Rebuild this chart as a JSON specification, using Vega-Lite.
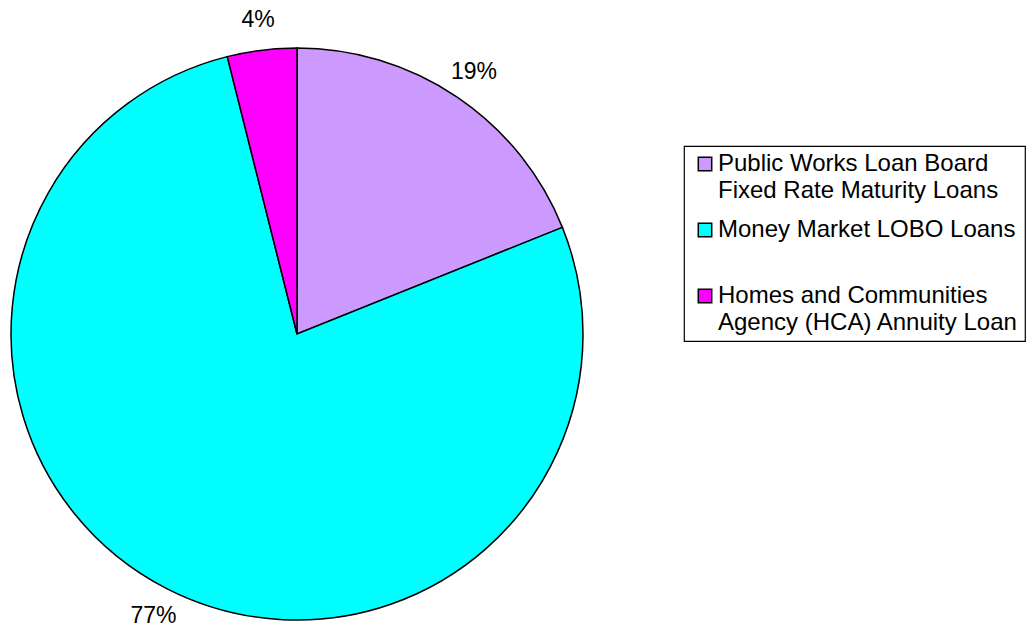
{
  "$schema": "https://vega.github.io/schema/vega-lite/v6.json",
  "width": 594,
  "height": 588,
  "autosize": {"type": "none"},
  "padding": {"left": 0, "top": 40, "right": 435, "bottom": 0},
  "background": "white",
  "config": {"view": {"stroke": null}, "font": "Liberation Sans"},
  "data": {
    "values": [
      {"category": "Public Works Loan Board|Fixed Rate Maturity Loans", "share": 0.1892, "ord": 1},
      {"category": "Money Market LOBO Loans| ", "share": 0.7716, "ord": 2},
      {"category": "Homes and Communities|Agency (HCA) Annuity Loan", "share": 0.0392, "ord": 3}
    ]
  },
  "encoding": {
    "theta": {"field": "share", "type": "quantitative", "stack": true},
    "order": {"field": "ord", "type": "quantitative"},
    "color": {
      "field": "category",
      "type": "nominal",
      "sort": null,
      "scale": {
        "domain": ["Public Works Loan Board|Fixed Rate Maturity Loans", "Money Market LOBO Loans| ", "Homes and Communities|Agency (HCA) Annuity Loan"],
        "range": ["#CC99FF", "#00FFFF", "#FF00FF"]
      },
      "legend": {
        "title": null,
        "orient": "none",
        "legendX": 684,
        "legendY": 106,
        "strokeColor": "black",
        "padding": 6,
        "symbolOffset": 3,
        "symbolType": "square",
        "symbolSize": 180,
        "symbolStrokeColor": "black",
        "symbolStrokeWidth": 1.5,
        "symbolOpacity": 1,
        "labelFont": "Liberation Sans",
        "labelFontSize": 24,
        "labelColor": "black",
        "labelOffset": 1,
        "labelLimit": 0,
        "rowPadding": 15,
        "labelExpr": "[split(datum.label, '|')[0] + ' ', split(datum.label, '|')[1] + ' ']",
        "encode": {
          "legend": {"update": {"strokeWidth": {"value": 1.2}}},
          "labels": {"update": {"lineHeight": {"value": 27}}}
        }
      }
    }
  },
  "layer": [
    {
      "mark": {"type": "arc", "outerRadius": 286, "stroke": "black", "strokeWidth": 1.5, "opacity": 1}
    },
    {
      "mark": {"type": "text", "radius": 316, "font": "Liberation Sans", "fontSize": 23, "color": "black"},
      "encoding": {
        "text": {"field": "share", "type": "quantitative", "format": ".0%"},
        "color": {"value": "black"}
      }
    }
  ]
}
